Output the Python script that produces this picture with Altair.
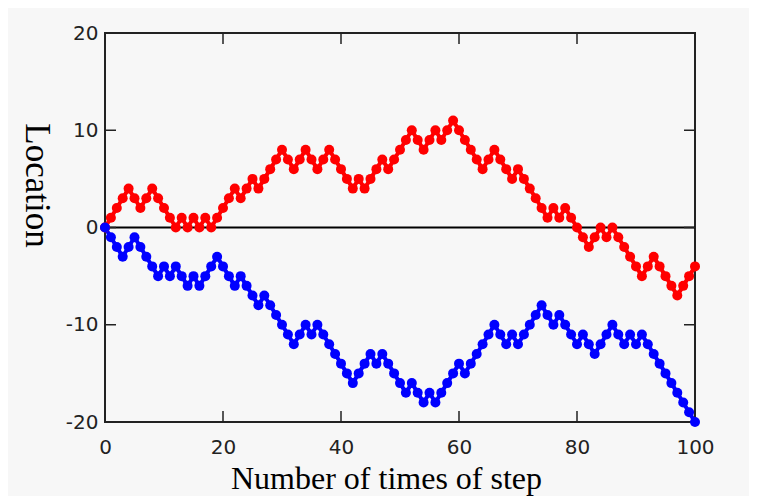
import altair as alt
import pandas as pd

steps = list(range(0, 101))

red_walk = [0, 1, 2, 3, 4, 3, 2, 3, 4, 3, 2, 1, 0, 1, 0, 1, 0, 1, 0, 1,
            2, 3, 4, 3, 4, 5, 4, 5, 6, 7, 8, 7, 6, 7, 8, 7, 6, 7, 8, 7,
            6, 5, 4, 5, 4, 5, 6, 7, 6, 7, 8, 9, 10, 9, 8, 9, 10, 9, 10, 11,
            10, 9, 8, 7, 6, 7, 8, 7, 6, 5, 6, 5, 4, 3, 2, 1, 2, 1, 2, 1,
            0, -1, -2, -1, 0, -1, 0, -1, -2, -3, -4, -5, -4, -3, -4, -5, -6, -7, -6, -5,
            -4]

blue_walk = [0, -1, -2, -3, -2, -1, -2, -3, -4, -5, -4, -5, -4, -5, -6, -5, -6, -5, -4, -3,
             -4, -5, -6, -5, -6, -7, -8, -7, -8, -9, -10, -11, -12, -11, -10, -11, -10, -11, -12, -13,
             -14, -15, -16, -15, -14, -13, -14, -13, -14, -15, -16, -17, -16, -17, -18, -17, -18, -17, -16, -15,
             -14, -15, -14, -13, -12, -11, -10, -11, -12, -11, -12, -11, -10, -9, -8, -9, -10, -9, -10, -11,
             -12, -11, -12, -13, -12, -11, -10, -11, -12, -11, -12, -11, -12, -13, -14, -15, -16, -17, -18, -19,
             -20]

series_names = ["red", "blue"]
series_colors = ["#ff0000", "#0000ff"]

x_ticks = [0, 20, 40, 60, 80, 100]
y_ticks = [-20, -10, 0, 10, 20]

W, H = 590, 389
BG = "#f7f7f7"

df = pd.concat([
    pd.DataFrame({"step": steps, "loc": red_walk, "series": "red", "ord": 0}),
    pd.DataFrame({"step": steps, "loc": blue_walk, "series": "blue", "ord": 1}),
], ignore_index=True)

xscale = alt.Scale(domain=[0, 100], nice=False, zero=False)
yscale = alt.Scale(domain=[-20, 20], nice=False, zero=False)
cscale = alt.Scale(domain=series_names, range=series_colors)

xaxis = alt.Axis(values=x_ticks, ticks=False, tickSize=0, domain=False, grid=False,
                 labelFont="DejaVu Sans", labelFontSize=20, labelColor="#222222",
                 labelPadding=15, labelExpr="'' + datum.value", labelFlush=False,
                 labelOverlap=False,
                 title="Number of times of step",
                 titleFont="Liberation Serif", titleFontSize=32, titleFontWeight="normal",
                 titleColor="#000000", titleX=281, titleY=66, titleBaseline="alphabetic",
                 titleAlign="center")
yaxis = alt.Axis(values=y_ticks, ticks=False, tickSize=0, domain=False, grid=False,
                 labelFont="DejaVu Sans", labelFontSize=20, labelColor="#222222",
                 labelPadding=7, labelExpr="'' + datum.value", labelFlush=False,
                 labelOverlap=False,
                 title="Location",
                 titleFont="Liberation Serif", titleFontSize=35, titleFontWeight="normal",
                 titleColor="#000000", titleAngle=90, titleX=-69, titleY=152,
                 titleBaseline="middle", titleAlign="center")

zero_df = pd.DataFrame({"x0": [0], "x1": [100], "y": [0]})
zero_line = alt.Chart(zero_df).mark_rule(color="#000000", strokeWidth=2).encode(
    x=alt.X("x0:Q", scale=xscale, axis=xaxis),
    x2="x1:Q",
    y=alt.Y("y:Q", scale=yscale, axis=yaxis),
)

lines = alt.Chart(df).mark_line(strokeWidth=4).encode(
    x=alt.X("step:Q", scale=xscale),
    y=alt.Y("loc:Q", scale=yscale),
    color=alt.Color("series:N", scale=cscale, legend=None),
    detail="series:N",
    order="step:Q",
)

points = alt.Chart(df).mark_circle(size=100, opacity=1).encode(
    x=alt.X("step:Q", scale=xscale),
    y=alt.Y("loc:Q", scale=yscale),
    color=alt.Color("series:N", scale=cscale, legend=None),
    order="ord:Q",
)

xt_df = pd.DataFrame({"t": x_ticks})
yt_df = pd.DataFrame({"t": y_ticks})
TL = 11
tick_style = dict(color="#222222", strokeWidth=1.5)

bottom_ticks = alt.Chart(xt_df).mark_rule(**tick_style).encode(
    x=alt.X("t:Q", scale=xscale), y=alt.value(H), y2=alt.value(H - TL))
top_ticks = alt.Chart(xt_df).mark_rule(**tick_style).encode(
    x=alt.X("t:Q", scale=xscale), y=alt.value(0), y2=alt.value(TL))
left_ticks = alt.Chart(yt_df).mark_rule(**tick_style).encode(
    y=alt.Y("t:Q", scale=yscale), x=alt.value(0), x2=alt.value(TL))
right_ticks = alt.Chart(yt_df).mark_rule(**tick_style).encode(
    y=alt.Y("t:Q", scale=yscale), x=alt.value(W), x2=alt.value(W - TL))

chart = alt.layer(
    zero_line, bottom_ticks, top_ticks, left_ticks, right_ticks, lines, points
).properties(
    width=W, height=H,
    background=BG,
    padding={"left": 97, "top": 25, "right": 54, "bottom": 74},
    autosize=alt.AutoSizeParams(type="none"),
).configure_view(
    stroke="#222222", strokeWidth=2, fill=BG
)

chart.save("out.html", embed_options={"renderer": "svg", "actions": False})
